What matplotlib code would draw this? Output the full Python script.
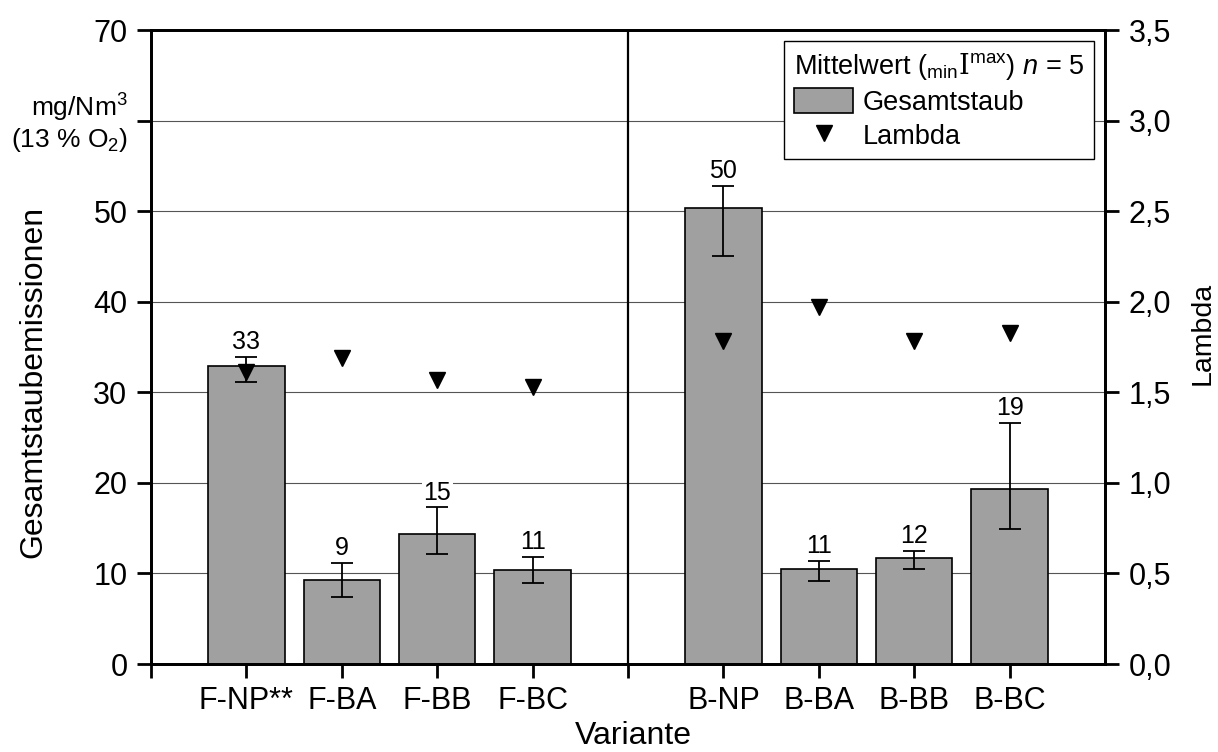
import matplotlib
matplotlib.use("Agg")
import matplotlib.pyplot as plt
from matplotlib.patches import Patch
from matplotlib.lines import Line2D
from matplotlib.ticker import FuncFormatter, FixedLocator
import numpy as np

plt.rcParams['font.family'] = ['Liberation Sans', 'DejaVu Sans']
plt.rcParams['mathtext.fontset'] = 'custom'
plt.rcParams['mathtext.rm'] = 'Liberation Sans'
plt.rcParams['mathtext.it'] = 'Liberation Sans:italic'
plt.rcParams['mathtext.tt'] = 'DejaVu Serif'

# Variants (F = first group, B = second group); position 5 separates the groups
variants = ["F-NP**", "F-BA", "F-BB", "F-BC", "B-NP", "B-BA", "B-BB", "B-BC"]
positions = [1, 2, 3, 4, 6, 7, 8, 9]

# Total dust emissions, mg/Nm3 (13 % O2): mean, min and max of n = 5
dust_mean = [32.9, 9.3, 14.4, 10.4, 50.4, 10.5, 11.7, 19.3]
dust_min = [31.1, 7.4, 12.2, 8.9, 45.1, 9.2, 10.5, 14.9]
dust_max = [33.9, 11.2, 17.3, 11.8, 52.8, 11.4, 12.5, 26.6]
dust_labels = ["33", "9", "15", "11", "50", "11", "12", "19"]

# Air ratio (lambda)
lambda_vals = [1.61, 1.69, 1.57, 1.53, 1.785, 1.97, 1.785, 1.83]

# Left axis ticks; the unit text takes the place of the 60 label
left_ticks = [0, 10, 20, 30, 40, 50, 60, 70]
left_ticklabels = ["0", "10", "20", "30", "40", "50", "", "70"]

W, H = 1218, 752
fig = plt.figure(figsize=(W / 100, H / 100), dpi=100)
ax = fig.add_axes([151 / W, 1 - 664 / H, 954 / W, 634 / H])
ax2 = ax.twinx()

bar_color = "#a0a0a0"
mean = np.array(dust_mean)
yerr = [mean - np.array(dust_min), np.array(dust_max) - mean]
ax.bar(positions, dust_mean, width=0.8, color=bar_color, edgecolor="black",
       linewidth=1.2, zorder=2)
ax.errorbar(positions, dust_mean, yerr=yerr, fmt="none", ecolor="black",
            elinewidth=1.3, capsize=8, capthick=1.3, zorder=3)

for x, top, lab in zip(positions, dust_max, dust_labels):
    ax.annotate(lab, (x, top), xytext=(0, 2), textcoords="offset points",
                ha="center", va="bottom", fontsize=18, zorder=4,
                bbox=dict(facecolor="white", edgecolor="none", pad=1))

ax2.plot(positions, lambda_vals, linestyle="none", marker="v", color="black",
         markersize=12, zorder=5)

# group separator
ax.axvline(5, color="black", linewidth=1.6, zorder=3)

ax.set_xlim(0, 10)
ax.set_ylim(0, 70)
ax2.set_ylim(0, 3.5)

ax.set_yticks(left_ticks)
ax.set_yticklabels(left_ticklabels)
ax2.set_yticks(np.arange(0, 3.51, 0.5))
ax2.yaxis.set_major_formatter(FuncFormatter(lambda v, p: f"{v:.1f}".replace(".", ",")))

xticks = list(range(0, 10))
xlabels = [variants[positions.index(t)] if t in positions else "" for t in xticks]
ax.xaxis.set_major_locator(FixedLocator(xticks))
ax.set_xticklabels(xlabels)

ax.grid(axis="y", color="#555555", linewidth=0.8, zorder=0)
ax.set_axisbelow(True)

for a in (ax, ax2):
    for s in a.spines.values():
        s.set_linewidth(2.0)
ax.tick_params(axis="y", direction="out", length=10, width=2.0,
               labelsize=22, pad=7)
ax.tick_params(axis="x", direction="out", length=10, width=2.0,
               labelsize=22, pad=6)
ax2.tick_params(axis="y", direction="out", length=10, width=2.0,
                labelsize=22, pad=7)

fig.text(633 / W, 1 / H, "Variante", ha="center", va="bottom", fontsize=23)
fig.text(1203 / W, 1 - 333 / H, "Lambda", rotation=90, ha="center",
         va="center", fontsize=20.5)
fig.text(33 / W, 1 - 382 / H, "Gesamtstaubemissionen", rotation=90,
         ha="center", va="center", fontsize=23)
fig.text(128 / W, 1 - 108 / H, "mg/Nm$^3$", ha="right", va="center", fontsize=19)
fig.text(128 / W, 1 - 140 / H, "(13 % O$_2$)", ha="right", va="center", fontsize=19)

handles = [Patch(facecolor=bar_color, edgecolor="black", linewidth=1.2),
           Line2D([], [], linestyle="none", marker="v", color="black", markersize=12)]
leg = ax2.legend(handles, ["Gesamtstaub", "Lambda"], loc="upper right",
                 title=r"Mittelwert ($_{\mathrm{min}}\mathtt{I}^{\mathrm{max}}$) $n$ = 5",
                 fontsize=19.5, title_fontsize=19.5, alignment="left",
                 fancybox=False, framealpha=1, edgecolor="black",
                 borderaxespad=0.42, handlelength=2.2, handleheight=1.07,
                 labelspacing=0.22, borderpad=0.35, handletextpad=0.33)
leg.get_frame().set_linewidth(1.0)
leg.set_zorder(10)

fig.savefig("out.png", dpi=100)
